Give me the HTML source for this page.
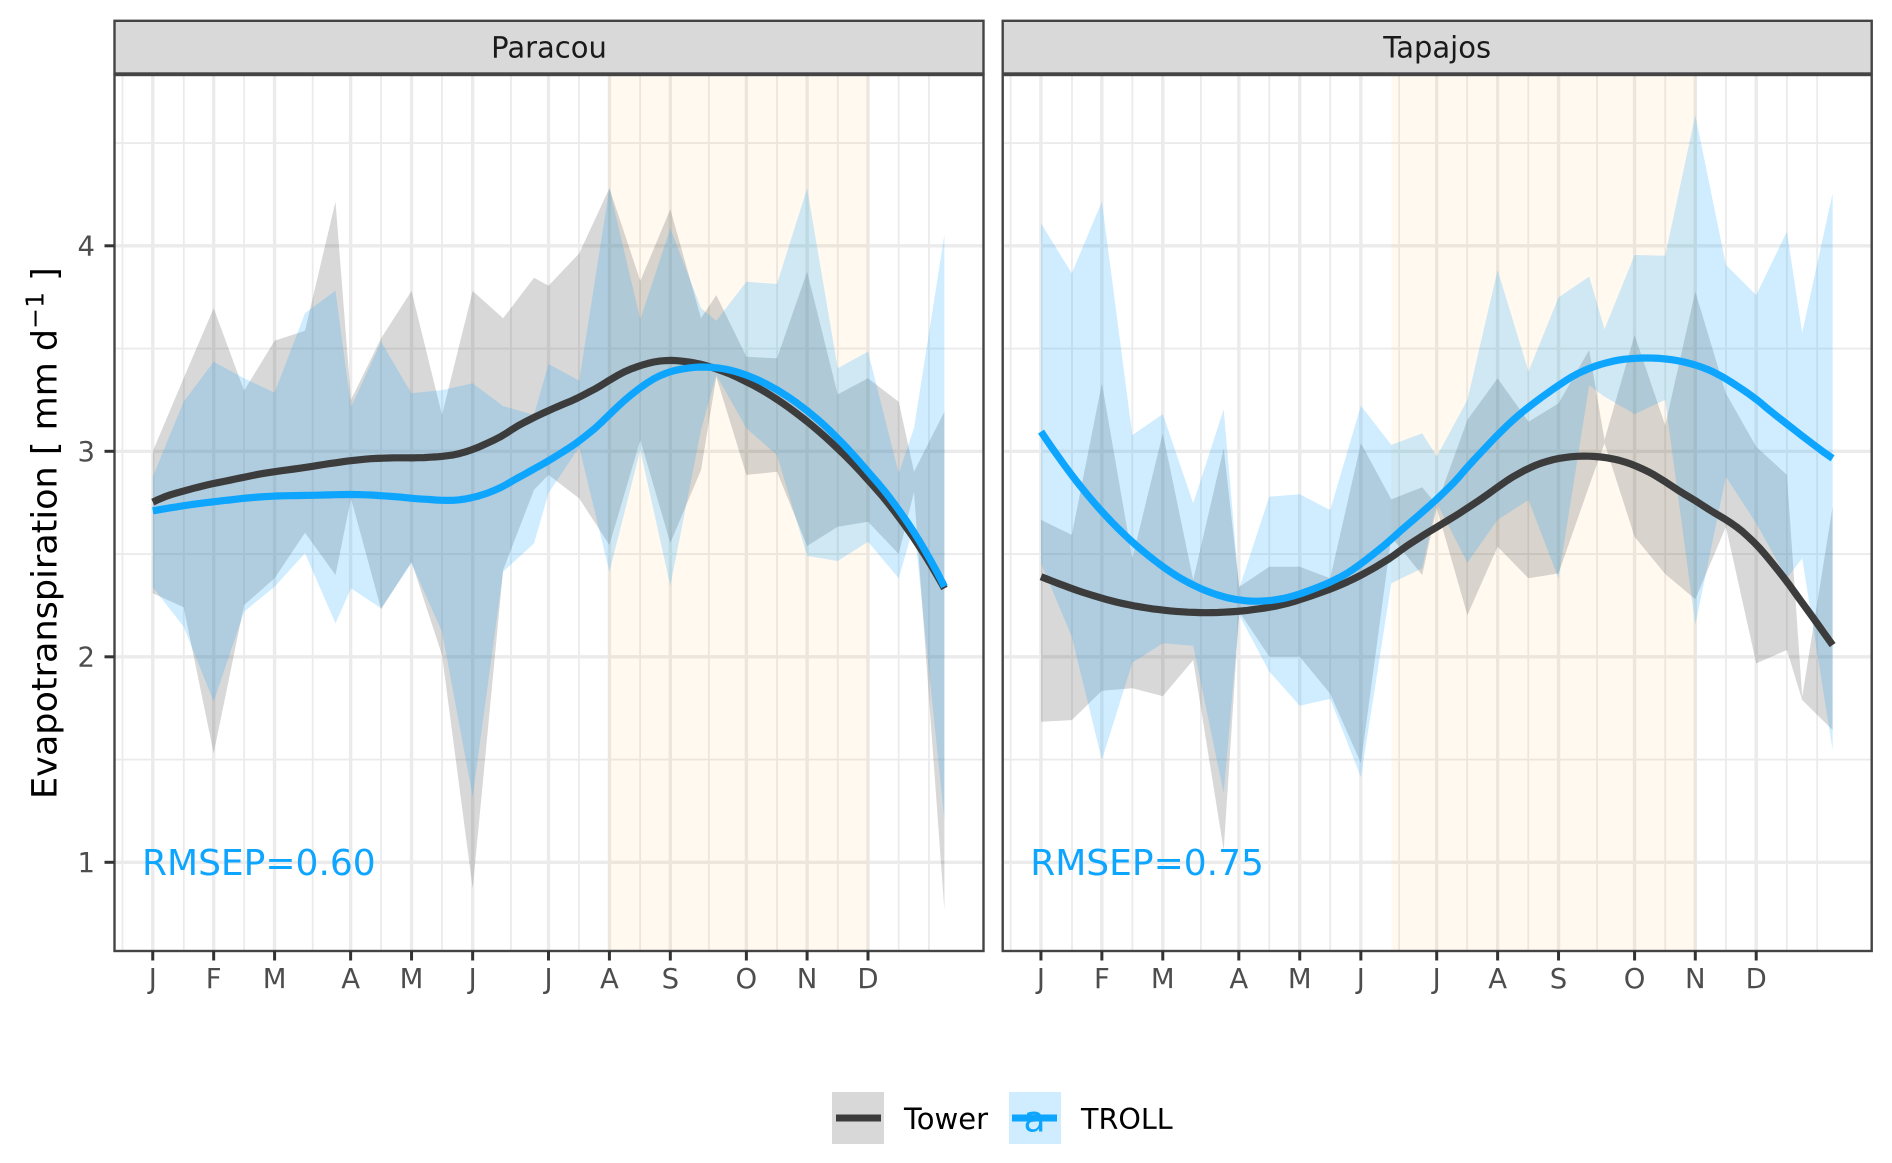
<!DOCTYPE html>
<html lang="en">
<head>
<meta charset="utf-8">
<title>Evapotranspiration: Tower vs TROLL</title>
<style>
  html, body { margin: 0; padding: 0; background: #ffffff; }
  body { width: 1892px; height: 1163px; overflow: hidden; }
  svg { display: block; font-family: "DejaVu Sans", "Liberation Sans", sans-serif; }
</style>
</head>
<body>
<svg id="chart" xmlns="http://www.w3.org/2000/svg" width="1892" height="1163" viewBox="0 0 1892 1163">
  <rect x="0" y="0" width="1892" height="1163" fill="#ffffff"/>
  <g id="panels"></g>
  <text transform="translate(56.5 799) rotate(-90)" font-size="35" fill="#000000">Evapotranspiration [ mm d<tspan dy="-13" font-size="25">−1</tspan><tspan dy="13"> ]</tspan></text>
  <g>
    <g>
      <rect x="832" y="1092" width="52" height="52" fill="#d8d8d8"/>
      <line x1="836" y1="1118" x2="881" y2="1118" stroke="#3c3c3c" stroke-width="7"/>
      <text x="904" y="1129" font-size="29" fill="#000000">Tower</text>
    </g>
    <g>
      <rect x="1009" y="1092" width="52" height="52" fill="#cfedff"/>
      <text x="1034.5" y="1131.5" font-size="36" text-anchor="middle" fill="#0ea5ff">a</text>
      <line x1="1012" y1="1118" x2="1057" y2="1118" stroke="#0ea5ff" stroke-width="7"/>
      <text x="1081" y="1129" font-size="28.6" fill="#000000">TROLL</text>
    </g>
  </g>
</svg>
<script>
// ---- shared axis data ----
const dataDays = [0,15.7,31,46.5,62,77.5,93,100.9,116.2,131.7,147.2,162.8,178.3,194,201.4,217,232.4,248.1,263.4,279,286.8,302.1,317.7,333,348.6,364,379.6,387.4,402.9];
const monthLabels = ["J","F","M","A","M","J","J","A","S","O","N","D"];
const monthDays = [0,31,62,100.7,131.7,162.8,201.4,232.4,263.4,302.1,333,364];
const minorDays = [-15.4,15.8,46.5,81.4,116.2,147.2,182.3,216.9,248,283,317.7,348.6,379.6,395];
const yTicks = [1,2,3,4];
const yMinorTicks = [1.5,2.5,3.5,4.5];

// ---- Paracou ----
const paracouTowerUpper = [3.00,3.355,3.696,3.295,3.538,3.587,4.215,3.25,3.55,3.78,3.177,3.78,3.647,3.845,3.806,3.963,4.28,3.829,4.178,3.647,3.76,3.46,3.452,3.874,3.277,3.355,3.241,2.9,3.193];
const paracouTowerLower = [2.309,2.241,1.53,2.252,2.382,2.604,2.398,2.771,2.231,2.463,2.009,0.873,2.422,2.812,2.885,2.771,2.544,3.055,2.554,2.909,3.362,2.885,2.9,2.539,2.633,2.657,2.5,2.802,0.768];
const paracouTrollUpper = [2.876,3.241,3.436,3.355,3.285,3.672,3.782,3.214,3.533,3.282,3.298,3.331,3.22,3.177,3.425,3.344,4.28,3.642,4.085,3.696,3.635,3.825,3.814,4.28,3.404,3.485,2.893,3.112,4.053];
const paracouTrollLower = [2.338,2.147,1.782,2.22,2.341,2.504,2.163,2.333,2.236,2.455,2.122,1.319,2.414,2.552,2.797,3.02,2.414,3.006,2.345,3.104,3.371,3.112,2.982,2.491,2.466,2.56,2.382,2.64,1.206];
const paracouTowerLine = [2.753,2.81,2.84,2.876,2.9,2.922,2.941,2.958,2.966,2.969,2.975,3.006,3.079,3.169,3.198,3.258,3.347,3.42,3.441,3.425,3.399,3.339,3.253,3.144,3.014,2.86,2.682,2.577,2.333];
const paracouTrollLine = [2.71,2.735,2.755,2.77,2.784,2.784,2.787,2.792,2.784,2.772,2.763,2.771,2.831,2.917,2.954,3.047,3.177,3.314,3.387,3.409,3.407,3.371,3.298,3.198,3.063,2.9,2.714,2.609,2.341];
const paracouSeason = [231.8,364.7];

// ---- Tapajos ----
const tapajosTowerUpper = [2.666,2.593,3.331,2.479,3.088,2.374,3.015,2.34,2.438,2.438,2.382,3.039,2.766,2.825,2.739,3.153,3.355,3.144,3.233,3.493,3.055,3.566,3.126,3.777,3.282,3.022,2.885,1.806,2.73];
const tapajosTowerLower = [1.684,1.692,1.835,1.847,1.809,1.984,1.06,2.22,2.0,2.0,1.82,1.482,2.583,2.398,2.724,2.203,2.536,2.382,2.406,2.832,3.039,2.584,2.403,2.28,2.633,1.968,2.033,1.79,1.644];
const tapajosTrollUpper = [4.109,3.866,4.215,3.079,3.181,2.747,3.204,2.333,2.779,2.791,2.714,3.222,3.031,3.087,2.974,3.25,3.882,3.388,3.749,3.85,3.594,3.955,3.952,4.636,3.907,3.76,4.069,3.577,4.255];
const tapajosTrollLower = [2.455,2.098,1.498,1.971,2.066,2.054,1.336,2.203,1.928,1.762,1.795,1.414,2.358,2.431,2.75,2.458,2.666,2.763,2.381,3.321,3.266,3.181,3.25,2.155,2.876,2.65,2.382,2.479,1.547];
const tapajosTowerLine = [2.39,2.333,2.285,2.249,2.228,2.216,2.216,2.223,2.241,2.276,2.333,2.393,2.487,2.588,2.633,2.718,2.828,2.917,2.966,2.974,2.971,2.933,2.852,2.755,2.666,2.552,2.365,2.26,2.057];
const tapajosTrollLine = [3.096,2.885,2.706,2.56,2.439,2.349,2.293,2.276,2.273,2.306,2.366,2.447,2.577,2.706,2.763,2.917,3.088,3.209,3.323,3.404,3.428,3.452,3.449,3.42,3.355,3.25,3.136,3.071,2.966];
const tapajosSeason = [178.3,333.7];

// ---- colours ----
const towerColor = "#3c3c3c";
const trollColor = "#0ea5ff";

// ---- axis functions ----
const panelTop = 75;
const panelBottom = 951;
const panelWidth = 869;
function yScale(v) { return 862.3 - (v - 1) * 205.5; }
function xScale(left, day) { return left + 38.25 + day * 1.965; }

const SVG_NS = "http://www.w3.org/2000/svg";
function mk(parent, tag, attrs) {
  const el = document.createElementNS(SVG_NS, tag);
  for (const k in attrs) el.setAttribute(k, attrs[k]);
  parent.appendChild(el);
  return el;
}
function ribbonPoints(left, upper, lower) {
  const pts = [];
  for (let i = 0; i < dataDays.length; i++) pts.push(xScale(left, dataDays[i]).toFixed(1) + "," + yScale(upper[i]).toFixed(1));
  for (let i = dataDays.length - 1; i >= 0; i--) pts.push(xScale(left, dataDays[i]).toFixed(1) + "," + yScale(lower[i]).toFixed(1));
  return pts.join(" ");
}
// Local quadratic fit through the series (the original uses a smoothed trend line).
function localFit(values, x0) {
  const h = 40;
  let s0 = 0, s1 = 0, s2 = 0, s3 = 0, s4 = 0, t0 = 0, t1 = 0, t2 = 0;
  for (let i = 0; i < dataDays.length; i++) {
    const u = dataDays[i] - x0;
    const r = Math.abs(u) / h;
    if (r >= 1) continue;
    const w = Math.pow(1 - r * r * r, 3);
    s0 += w; s1 += w * u; s2 += w * u * u; s3 += w * u * u * u; s4 += w * u * u * u * u;
    t0 += w * values[i]; t1 += w * u * values[i]; t2 += w * u * u * values[i];
  }
  const det = s0 * (s2 * s4 - s3 * s3) - s1 * (s1 * s4 - s3 * s2) + s2 * (s1 * s3 - s2 * s2);
  if (Math.abs(det) < 1e-9) return t0 / s0;
  return (t0 * (s2 * s4 - s3 * s3) - s1 * (t1 * s4 - s3 * t2) + s2 * (t1 * s3 - s2 * t2)) / det;
}
function smoothPath(left, values) {
  const last = dataDays[dataDays.length - 1];
  let d = "";
  for (let day = 0; ; day += 3) {
    const t = Math.min(day, last);
    d += (d ? "L" : "M") + xScale(left, t).toFixed(1) + " " + yScale(localFit(values, t)).toFixed(1);
    if (t >= last) break;
  }
  return d;
}

const panelsRoot = document.getElementById("panels");

function drawPanel(cfg) {
  const left = cfg.left;
  const right = left + panelWidth;
  const g = mk(panelsRoot, "g", {});
  
  

  // grid
  yMinorTicks.forEach(function (v) {
    const l = mk(g, "line", { x1: left, x2: right, y1: yScale(v), y2: yScale(v), stroke: "#ebebeb", "stroke-width": 1.8 });
    
    
  });
  minorDays.forEach(function (d) {
    const l = mk(g, "line", { x1: xScale(left, d), x2: xScale(left, d), y1: panelTop, y2: panelBottom, stroke: "#ebebeb", "stroke-width": 1.8 });
    
    
  });
  yTicks.forEach(function (v) {
    const l = mk(g, "line", { x1: left, x2: right, y1: yScale(v), y2: yScale(v), stroke: "#ebebeb", "stroke-width": 3.4 });
    
    
  });
  monthDays.forEach(function (d) {
    const l = mk(g, "line", { x1: xScale(left, d), x2: xScale(left, d), y1: panelTop, y2: panelBottom, stroke: "#ebebeb", "stroke-width": 3.4 });
    
    
  });

  // dry-season band
  const x0 = xScale(left, cfg.season[0]);
  const x1 = xScale(left, cfg.season[1]);
  const band = mk(g, "rect", { x: x0, y: panelTop, width: x1 - x0, height: panelBottom - panelTop, fill: "rgb(255,190,90)", "fill-opacity": 0.09 });
  
  

  // ribbons
  const towerRibbon = mk(g, "polygon", { points: ribbonPoints(left, cfg.towerUpper, cfg.towerLower), fill: towerColor, "fill-opacity": 0.2 });
  
  
  const trollRibbon = mk(g, "polygon", { points: ribbonPoints(left, cfg.trollUpper, cfg.trollLower), fill: trollColor, "fill-opacity": 0.2 });
  
  

  // smooth lines
  const towerLine = mk(g, "path", { d: smoothPath(left, cfg.towerLine), fill: "none", stroke: towerColor, "stroke-width": 7.2, "stroke-linejoin": "round" });
  
  
  const trollLine = mk(g, "path", { d: smoothPath(left, cfg.trollLine), fill: "none", stroke: trollColor, "stroke-width": 7.2, "stroke-linejoin": "round" });
  
  

  // annotation
  const note = mk(g, "text", { x: left + 27.5, y: 875, "font-size": 36, fill: trollColor });
  
  
  note.textContent = cfg.rmsep;

  // panel border
  const border = mk(g, "rect", { x: left, y: panelTop, width: panelWidth, height: panelBottom - panelTop, fill: "none", stroke: "#444444", "stroke-width": 2.4 });
  
  

  // strip
  const strip = mk(g, "rect", { x: left, y: 20.8, width: panelWidth, height: 52.7, fill: "#d9d9d9", stroke: "#444444", "stroke-width": 2.4 });
  
  
  const stripText = mk(g, "text", { x: left + panelWidth / 2, y: 57.5, "font-size": 29, "text-anchor": "middle", fill: "#1a1a1a" });
  
  
  stripText.textContent = cfg.title;

  // x axis ticks
  monthDays.forEach(function (d, i) {
    const x = xScale(left, d);
    const t = mk(g, "line", { x1: x, x2: x, y1: panelBottom, y2: panelBottom + 9.5, stroke: "#333333", "stroke-width": 3 });
    
    
    const lab = mk(g, "text", { x: x, y: 988, "font-size": 27.5, "text-anchor": "middle", fill: "#4d4d4d" });
    
    
    lab.textContent = monthLabels[i];
  });

  // y axis (only first panel)
  if (cfg.showY) {
    yTicks.forEach(function (v) {
      const y = yScale(v);
      const t = mk(g, "line", { x1: left - 10, x2: left, y1: y, y2: y, stroke: "#333333", "stroke-width": 3 });
      
      
      const lab = mk(g, "text", { x: left - 19.5, y: y + 9.6, "font-size": 27.5, "text-anchor": "end", fill: "#4d4d4d" });
      
      
      lab.textContent = String(v);
    });
  }
}

drawPanel({
  slug: "paracou", title: "Paracou", rmsep: "RMSEP=0.60", left: 114.5, showY: true, season: paracouSeason,
  towerUpper: paracouTowerUpper, towerLower: paracouTowerLower,
  trollUpper: paracouTrollUpper, trollLower: paracouTrollLower,
  towerLine: paracouTowerLine, trollLine: paracouTrollLine
});
drawPanel({
  slug: "tapajos", title: "Tapajos", rmsep: "RMSEP=0.75", left: 1002.7, showY: false, season: tapajosSeason,
  towerUpper: tapajosTowerUpper, towerLower: tapajosTowerLower,
  trollUpper: tapajosTrollUpper, trollLower: tapajosTrollLower,
  towerLine: tapajosTowerLine, trollLine: tapajosTrollLine
});
</script>
</body>
</html>
